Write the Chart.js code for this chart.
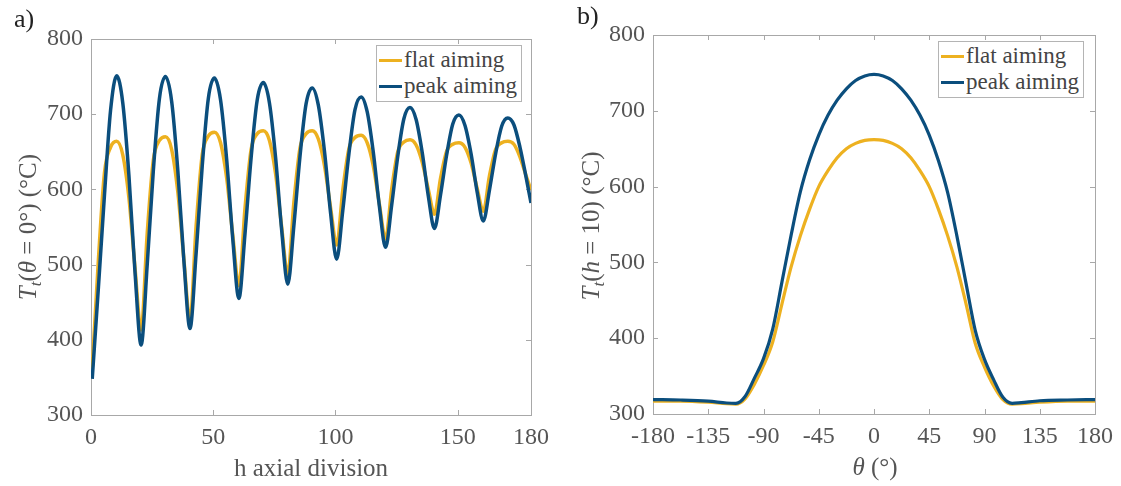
<!DOCTYPE html>
<html>
<head>
<meta charset="utf-8">
<script src="https://cdn.jsdelivr.net/npm/chart.js@4.4.1/dist/chart.umd.min.js"></script>
<style>
  html, body { margin:0; padding:0; background:#fff; }
  #wrap { position:relative; width:1121px; height:486px; background:#fff; overflow:hidden;
          font-family:'Liberation Serif','DejaVu Serif',serif; }
  canvas { position:absolute; top:0; }
  .panel { position:absolute; font-size:26px; color:#222; }
  .ytitle { position:absolute; transform:translate(-50%,-50%) rotate(-90deg); white-space:nowrap;
            font-size:25px; color:#555; }
  .xtitle { position:absolute; transform:translate(-50%,-50%); white-space:nowrap; font-size:25px; color:#555; }
  .ytitle sub { font-size:0.68em; vertical-align:-0.28em; line-height:0; }
  .legend { position:absolute; background:#fff; border:1px solid #b4b4b4; padding:1px 4px 2px 2px;
            font-size:23px; color:#444; line-height:26px; }
  .legend .row { display:flex; align-items:center; white-space:nowrap; }
  .legend .sw { display:inline-block; width:23px; height:3px; margin-right:2px; }
</style>
</head>
<body>
<div id="wrap">
  <canvas id="cA" width="560" height="486" style="left:0"></canvas>
  <canvas id="cB" width="561" height="486" style="left:560px"></canvas>
  <div class="panel" style="left:14px;top:4px">a)</div>
  <div class="panel" style="left:577px;top:1px">b)</div>
  <div class="ytitle" style="left:28px;top:227px"><i>T<sub>t</sub></i>(<i>θ</i> = 0°) (°C)</div>
  <div class="ytitle" style="left:591px;top:226px"><i>T<sub>t</sub></i>(<i>h</i> = 10) (°C)</div>
  <div class="xtitle" style="left:311px;top:468px">h axial division</div>
  <div class="xtitle" style="left:875px;top:467px"><i>θ</i> (°)</div>
  <div class="legend" id="legA" style="left:376px;top:45px"></div>
  <div class="legend" id="legB" style="left:938px;top:41px"></div>
</div>
<script>
// ---------- DATA ----------
const seriesNames = ['flat aiming', 'peak aiming'];

// Panel a) : temperature at theta = 0 vs axial division h
const hAxial = [0.5, 3, 5.5, 8, 10.5, 13, 15.5, 18, 20.5, 23, 25.5, 28, 30.5, 33, 35.5, 38, 40.5,
  43, 45.5, 48, 50.5, 53, 55.5, 58, 60.5, 63, 65.5, 68, 70.5, 73, 75.5, 78, 80.5,
  83, 85.5, 88, 90.5, 93, 95.5, 98, 100.5, 103, 105.5, 108, 110.5, 113, 115.5, 118, 120.5,
  123, 125.5, 128, 130.5, 133, 135.5, 138, 140.5, 143, 145.5, 148, 150.5, 153, 155.5, 158, 160.5,
  163, 165.5, 168, 170.5, 173, 175.5, 178, 180];
const flatAxial = [362, 505, 622, 656, 664, 646, 589, 496, 413, 542, 639, 665, 670, 653, 597, 507, 426,
  551, 646, 671, 676, 662, 615, 539, 472, 575, 653, 674, 678, 665, 621, 550, 487,
  583, 655, 674, 678, 667, 632, 576, 526, 599, 654, 669, 672, 662, 631, 580, 534,
  600, 650, 663, 666, 659, 636, 600, 567, 615, 651, 660, 662, 656, 635, 601, 571,
  618, 653, 662, 664, 660, 643, 618, 599];
const peakAxial = [348, 468, 592, 705, 751, 715, 619, 490, 393, 500, 625, 721, 750, 717, 626, 505, 415,
  515, 631, 721, 748, 719, 640, 534, 455, 541, 642, 719, 742, 715, 643, 546, 474,
  552, 644, 714, 735, 712, 651, 569, 507, 572, 647, 706, 723, 703, 649, 577, 523,
  579, 644, 694, 709, 693, 649, 591, 548, 593, 646, 687, 699, 685, 647, 596, 558,
  599, 647, 684, 695, 686, 656, 616, 582];
const xTicksAxial = [0, 50, 100, 150, 180];

// Panel b) : temperature at h = 10 vs theta
const theta = [-180, -157.5, -135, -120, -112.5, -105, -97.5, -90, -82.5, -75, -67.5, -60, -52.5, -45,
  -37.5, -30, -22.5, -15, -7.5, 0, 7.5, 15, 22.5, 30, 37.5, 45, 52.5, 60, 67.5, 75, 82.5, 90,
  97.5, 105, 112.5, 120, 135, 157.5, 180];
const flatTheta = [317, 317, 315.5, 313.5, 313, 320, 339, 364, 395, 445, 494, 535, 570, 600,
  621, 638, 650, 657, 661, 662, 661, 657, 650, 638, 621, 600, 570, 535, 494, 445, 393, 362,
  337, 319, 313, 313.5, 315.5, 317, 317];
const peakTheta = [319, 318.5, 317, 314.5, 314, 323, 347, 373, 412, 474, 536, 593, 635, 668,
  694, 714, 729, 740, 746, 748, 746, 740, 729, 714, 694, 668, 634, 592, 535, 472, 410, 372,
  345, 322, 314, 315, 317.5, 318.5, 319];
const xTicksTheta = [-180, -135, -90, -45, 0, 45, 90, 135, 180];
const yTicks = [300, 400, 500, 600, 700, 800];

const colors = ['#EDB120', '#0B4E7D'];
// ---------- CHARTS ----------
Chart.defaults.font.family = "'Liberation Serif', 'DejaVu Serif', serif";
Chart.defaults.color = '#555';

const boxPlugin = {
  id: 'matlabBox',
  beforeDatasetsDraw(chart) {
    const {ctx, chartArea: a, scales} = chart;
    ctx.save();
    ctx.strokeStyle = '#a8a8a8';
    ctx.lineWidth = 1;
    ctx.strokeRect(Math.round(a.left) + 0.5, Math.round(a.top) + 0.5,
                   Math.round(a.right - a.left), Math.round(a.bottom - a.top));
    ctx.beginPath();
    scales.x.ticks.forEach(t => {
      const px = Math.round(scales.x.getPixelForValue(t.value)) + 0.5;
      ctx.moveTo(px, a.bottom); ctx.lineTo(px, a.bottom - 5);
      ctx.moveTo(px, a.top); ctx.lineTo(px, a.top + 5);
    });
    scales.y.ticks.forEach(t => {
      const py = Math.round(scales.y.getPixelForValue(t.value)) + 0.5;
      ctx.moveTo(a.left, py); ctx.lineTo(a.left + 5, py);
      ctx.moveTo(a.right, py); ctx.lineTo(a.right - 5, py);
    });
    ctx.stroke();
    ctx.restore();
  }
};

function makeChart(id, xs, ys, xMin, xMax, xTicks, pad, yWidth, xHeight, legendId, lw) {
  const datasets = ys.map((vals, i) => ({
    label: seriesNames[i],
    data: xs.map((x, k) => ({x: x, y: vals[k]})),
    borderColor: colors[i],
    backgroundColor: colors[i],
    borderWidth: lw,
    pointRadius: 0,
    cubicInterpolationMode: 'monotone',
    order: i === 1 ? 1 : 2
  }));
  const chart = new Chart(document.getElementById(id), {
    type: 'line',
    data: { datasets },
    options: {
      responsive: false,
      animation: false,
      layout: { padding: pad },
      plugins: { legend: { display: false }, tooltip: { enabled: false } },
      scales: {
        x: {
          type: 'linear', min: xMin, max: xMax,
          afterBuildTicks: s => { s.ticks = xTicks.map(v => ({value: v})); },
          afterFit: s => { s.height = xHeight; },
          grid: { display: false, drawTicks: false },
          border: { display: false },
          ticks: { font: { size: 24 }, color: '#555', padding: 8, maxRotation: 0, autoSkip: false }
        },
        y: {
          type: 'linear', min: 300, max: 800,
          afterBuildTicks: s => { s.ticks = yTicks.map(v => ({value: v})); },
          afterFit: s => { s.width = yWidth; },
          grid: { display: false, drawTicks: false },
          border: { display: false },
          ticks: { font: { size: 24 }, color: '#555', padding: 8 }
        }
      }
    },
    plugins: [boxPlugin]
  });
  const leg = document.getElementById(legendId);
  leg.innerHTML = chart.data.datasets.map(d =>
    '<div class="row"><span class="sw" style="background:' + d.borderColor + '"></span>' + d.label + '</div>'
  ).join('');
  return chart;
}

makeChart('cA', hAxial, [flatAxial, peakAxial], 0, 180, xTicksAxial,
  {left: 0, top: 39, right: 29, bottom: 0}, 91, 71, 'legA', 3.5);
makeChart('cB', theta, [flatTheta, peakTheta], -180, 180, xTicksTheta,
  {left: 0, top: 35, right: 24, bottom: 0}, 93, 72, 'legB', 3.2);
</script>
</body>
</html>
